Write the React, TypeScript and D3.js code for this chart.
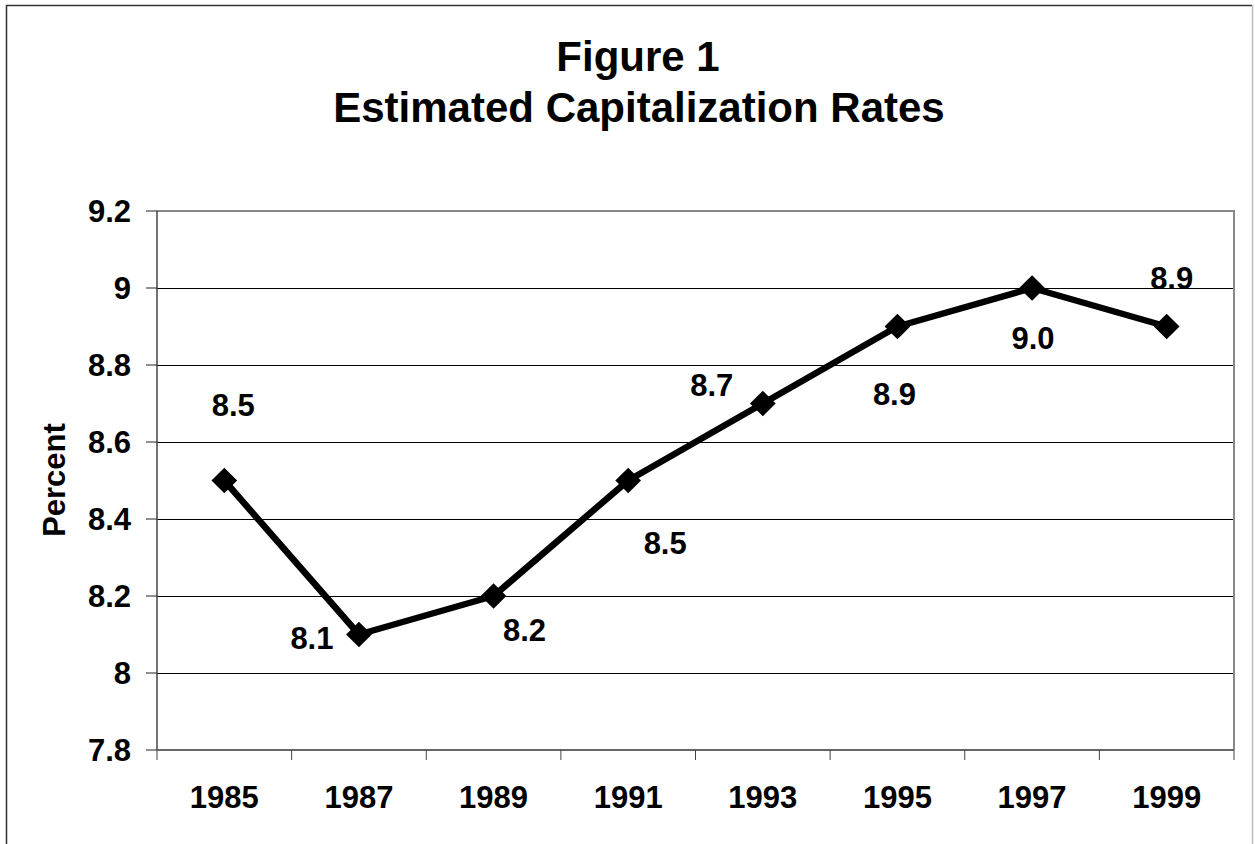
import * as d3 from 'd3';

const years = ['1985', '1987', '1989', '1991', '1993', '1995', '1997', '1999'];
const rates = [8.5, 8.1, 8.2, 8.5, 8.7, 8.9, 9.0, 8.9];
const yTicks = [7.8, 8, 8.2, 8.4, 8.6, 8.8, 9, 9.2];
const titleLines = ['Figure 1', 'Estimated Capitalization Rates'];
const yAxisTitle = 'Percent';

// where each value label sits relative to its marker (dx, dy of the text centre)
const labelNudge: [number, number][] = [
    [9, -76], [-47, 3], [31, 34], [37, 62],
    [-51, -19], [-3, 67], [1, 50], [5, -49],
];

const W = 1255;
const H = 844;
const plot = { left: 157, right: 1234, top: 211, bottom: 750 };
const font = "Arial, 'Liberation Sans', sans-serif";
const labelSize = 31;

export default function App() {
    const x = d3.scaleBand<string>()
        .domain(years)
        .range([plot.left, plot.right]);

    const y = d3.scaleLinear()
        .domain([7.8, 9.2])
        .range([plot.bottom, plot.top]);

    const cx = (i: number) => (x(years[i]) ?? 0) + x.bandwidth() / 2;

    const line = d3.line<number>()
        .x((_, i) => cx(i))
        .y(d => y(d));

    const diamond = d3.symbol().type(d3.symbolSquare).size(330)();
    const fmt = d3.format('.1f');

    // band edges for the x tick marks
    const edges = [...years.map(yr => x(yr) ?? 0), plot.right];

    return (
        <svg width={W} height={H} style={{ position: 'absolute', left: 0, top: 0, background: '#fff' }}>
            {/* outer frame */}
            <path d={`M6.5,${H} V5.5 H1252`} fill="none" stroke="#333" strokeWidth={1.5} />
            <line x1={1252.5} x2={1252.5} y1={5} y2={H} stroke="#bbb" strokeWidth={1.5} />

            {/* title */}
            <g fontFamily={font} fontWeight="bold" fontSize={42} textAnchor="middle" fill="#000">
                <text x={638} y={71}>{titleLines[0]}</text>
                <text x={639} y={122}>{titleLines[1]}</text>
            </g>

            {/* grid lines */}
            {yTicks.slice(1, -1).map(t => (
                <line key={t} x1={plot.left} x2={plot.right}
                    y1={Math.round(y(t)) + 0.5} y2={Math.round(y(t)) + 0.5}
                    stroke="#000" strokeWidth={1} />
            ))}

            {/* plot frame: top & right gray */}
            <path d={`M${plot.left},${plot.top} H${plot.right} V${plot.bottom}`}
                fill="none" stroke="#888" strokeWidth={2} />

            {/* y axis */}
            <line x1={plot.left} x2={plot.left} y1={plot.top} y2={plot.bottom} stroke="#444" strokeWidth={1.5} />
            {yTicks.map(t => (
                <g key={t}>
                    <line x1={146} x2={plot.left} y1={y(t)} y2={y(t)} stroke="#222" strokeWidth={1} />
                    <text x={131} y={y(t)} dy="0.36em" textAnchor="end"
                        fontFamily={font} fontWeight="bold" fontSize={labelSize}>{String(t)}</text>
                </g>
            ))}

            {/* x axis */}
            <line x1={plot.left} x2={plot.right} y1={plot.bottom} y2={plot.bottom} stroke="#666" strokeWidth={2} />
            {edges.map((e, i) => (
                <line key={i} x1={e} x2={e} y1={plot.bottom} y2={plot.bottom + 10} stroke="#444" strokeWidth={1} />
            ))}
            {years.map((yr, i) => (
                <text key={yr} x={cx(i)} y={808} textAnchor="middle"
                    fontFamily={font} fontWeight="bold" fontSize={labelSize}>{yr}</text>
            ))}

            {/* y axis title */}
            <text transform="translate(65,480) rotate(-90)" textAnchor="middle"
                fontFamily={font} fontWeight="bold" fontSize={labelSize}>{yAxisTitle}</text>

            {/* series */}
            <path d={line(rates) ?? ''} fill="none" stroke="#000" strokeWidth={6.5} strokeLinejoin="round" />
            {rates.map((v, i) => (
                <path key={i} d={diamond ?? ''} fill="#000"
                    transform={`translate(${cx(i)},${y(v)}) rotate(45)`} />
            ))}

            {/* value labels */}
            {rates.map((v, i) => (
                <text key={i} x={cx(i) + labelNudge[i][0]} y={y(v) + labelNudge[i][1]} dy="0.36em"
                    textAnchor="middle" fontFamily={font} fontWeight="bold" fontSize={labelSize}>{fmt(v)}</text>
            ))}
        </svg>
    );
}
